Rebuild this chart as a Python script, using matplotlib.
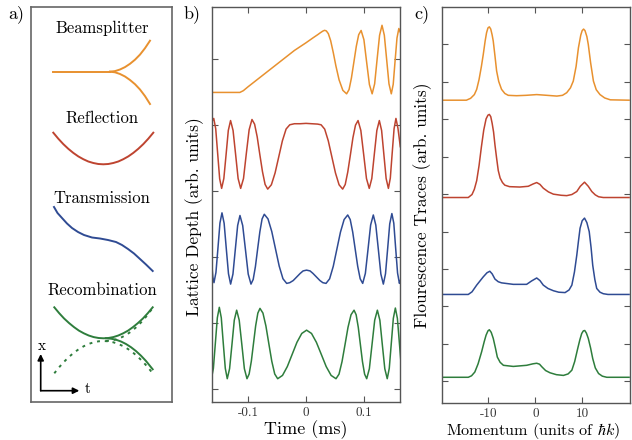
import numpy as np
import matplotlib
matplotlib.use('Agg')
import matplotlib.pyplot as plt

plt.rcParams['font.family'] = 'cmr10'
plt.rcParams['mathtext.fontset'] = 'cm'
plt.rcParams['axes.unicode_minus'] = False

ORANGE = '#E8912F'
RED = '#BE4430'
BLUE = '#2F4B93'
GREEN = '#2E7D3C'
SPINE = '#555555'

# ---------------- panel a: schematic paths (box coordinates) ----------------
bs_in_x = [22.3, 79]
bs_in_y = [64.7, 64.7]
bs_up_x = [79, 84, 89, 94, 99, 104, 109, 114, 119]
bs_up_y = [64.7, 64.1, 62.5, 60.1, 56.8, 52.7, 47.6, 41.2, 33.7]
bs_dn_y = [64.7, 65.3, 67.0, 69.5, 73.0, 77.2, 82.5, 89.1, 97.0]

refl_x = [22.3, 27.3, 32.3, 37.3, 42.3, 47.3, 52.3, 57.3, 62.3, 67.3, 72.3,
          77.3, 82.3, 87.3, 92.3, 97.3, 102.3, 107.3, 112.3, 117.3, 122.3]
refl_y = [125.7, 131.7, 137.1, 141.8, 145.9, 149.4, 152.2, 154.5, 156.0, 157.0, 157.3,
          157.0, 156.0, 154.5, 152.2, 149.4, 145.9, 141.8, 137.1, 131.7, 125.7]

trans_x = [23, 26.5, 31, 36, 41, 47, 53, 61, 69, 77, 85, 91, 97, 103, 109, 115, 121.7]
trans_y = [200, 206, 211, 216.5, 221, 225, 228, 230.5, 231.5, 233, 235, 238, 242,
           246.5, 252, 257.5, 264]

rec_x = [23.3, 28.2, 33.1, 38.1, 43.0, 47.9, 52.8, 57.7, 62.7, 67.6, 72.5,
         77.4, 82.3, 87.3, 92.2, 97.1, 102.0, 106.9, 111.9, 116.8, 121.7]
rec_u_y = [300.3, 306.2, 311.5, 316.1, 320.1, 323.6, 326.3, 328.5, 330.1, 331.0, 331.3,
           331.0, 330.1, 328.5, 326.3, 323.6, 320.1, 316.1, 311.5, 306.2, 300.3]
rec_n_y = [366.3, 360.2, 354.7, 349.8, 345.6, 342.1, 339.2, 336.9, 335.3, 334.3, 334.0,
           334.3, 335.3, 336.9, 339.2, 342.1, 345.6, 349.8, 354.7, 360.2, 366.3]
rec_br_x = [75, 80, 85, 90, 95, 100, 105, 110, 115, 121.7]
rec_br_dn_y = [331.3, 331.7, 332.7, 334.5, 337.0, 340.2, 344.1, 348.7, 354.0, 362.3]
rec_br_up_y = [334.0, 333.6, 332.5, 330.6, 328.0, 324.6, 320.4, 315.5, 309.8, 301.0]

# ---------------- panel b: lattice depth (normalised 0..1) ----------------
t_bs = [-0.163, -0.114, -0.108, -0.100, -0.080, -0.060, -0.040, -0.020, 0.000, 0.012,
        0.020, 0.025, 0.029, 0.032, 0.035, 0.0385, 0.0425, 0.047, 0.0515, 0.057, 0.0635, 0.070,
        0.0742, 0.0783, 0.0825, 0.0867, 0.0908, 0.095,
        0.0998, 0.1045, 0.1093, 0.114, 0.1183, 0.1225, 0.1268, 0.131,
        0.135, 0.139, 0.143, 0.147, 0.1503, 0.1535, 0.1568, 0.160, 0.1625]
v_bs = [0.02, 0.02, 0.045, 0.10, 0.23, 0.36, 0.49, 0.62, 0.73, 0.80,
        0.845, 0.875, 0.897, 0.908, 0.90, 0.86, 0.76, 0.59, 0.40, 0.20, 0.05, 0.0,
        0.061, 0.227, 0.453, 0.680, 0.845, 0.906,
        0.774, 0.453, 0.132, 0.0, 0.143, 0.49, 0.837, 0.98,
        0.837, 0.49, 0.143, 0.0, 0.136, 0.467, 0.798, 0.934, 0.88]

t_refl = [-0.1625, -0.159, -0.1556, -0.1522, -0.1488, -0.1454, -0.1416, -0.1377, -0.1339,
          -0.130, -0.1257, -0.1213, -0.1170, -0.1126, -0.1077, -0.1029, -0.0980, -0.0931,
          -0.0886, -0.0841, -0.0796, -0.0750, -0.0705, -0.066,
          -0.0597, -0.0533, -0.047, -0.0407, -0.0343, -0.028, -0.020, -0.010, 0.000,
          0.010, 0.020, 0.026, 0.0322, 0.0384, 0.0446, 0.0508, 0.057, 0.0632,
          0.0676, 0.072, 0.0765, 0.0809, 0.0853, 0.0897, 0.0945, 0.0994, 0.1042, 0.109,
          0.1134, 0.1177, 0.1221, 0.1264, 0.1303, 0.1342, 0.1381, 0.142,
          0.1453, 0.1485, 0.1518, 0.155, 0.1585, 0.1625]
v_refl = [0.95, 1.0, 0.854, 0.5, 0.146, 0.01, 0.15, 0.49, 0.83,
          0.97, 0.83, 0.49, 0.15, 0.01, 0.15, 0.50, 0.84, 0.985,
          0.919, 0.739, 0.49, 0.246, 0.066, 0.0,
          0.061, 0.228, 0.455, 0.683, 0.85, 0.91, 0.925, 0.925, 0.93,
          0.925, 0.92, 0.91, 0.849, 0.683, 0.455, 0.228, 0.061, 0.0,
          0.065, 0.243, 0.485, 0.728, 0.905, 0.97, 0.83, 0.49, 0.15, 0.01,
          0.15, 0.49, 0.83, 0.97, 0.83, 0.49, 0.15, 0.01,
          0.155, 0.505, 0.855, 1.0, 0.86, 0.6]

t_trans = [-0.1625, -0.1606, -0.1586, -0.1552, -0.1517, -0.1483, -0.1448,
           -0.1411, -0.1374, -0.1336, -0.1299, -0.1259, -0.1219, -0.1178, -0.1138,
           -0.1091, -0.1043, -0.0996, -0.0948, -0.091, -0.0872, -0.0834, -0.0795, -0.0757,
           -0.0719, -0.0655, -0.059, -0.0526, -0.0462, -0.0397, -0.0333,
           -0.028, -0.022, -0.016, -0.010, -0.005, 0.001, 0.007, 0.012, 0.018, 0.024,
           0.029, 0.0345, 0.0407, 0.047, 0.0532, 0.0594, 0.0657, 0.0719,
           0.0762, 0.0805, 0.0848, 0.0891, 0.0934, 0.0977, 0.1023, 0.1069, 0.1114, 0.116,
           0.1203, 0.1247, 0.129, 0.1333, 0.137, 0.1407, 0.1443, 0.148,
           0.1513, 0.1545, 0.1578, 0.161, 0.1625]
v_trans = [0.30, 0.10, 0.02, 0.163, 0.51, 0.857, 1.0,
           0.854, 0.5, 0.146, 0.0, 0.141, 0.48, 0.822, 0.963,
           0.822, 0.48, 0.141, 0.0, 0.066, 0.245, 0.49, 0.735, 0.914,
           0.98, 0.915, 0.738, 0.495, 0.253, 0.075, 0.01,
           0.02, 0.05, 0.10, 0.15, 0.185, 0.196, 0.185, 0.15, 0.10, 0.05,
           0.02, 0.01, 0.074, 0.25, 0.49, 0.73, 0.906, 0.97,
           0.906, 0.73, 0.49, 0.25, 0.074, 0.01, 0.15, 0.49, 0.83, 0.97,
           0.828, 0.485, 0.142, 0.0, 0.145, 0.495, 0.845, 0.99,
           0.855, 0.505, 0.155, 0.01, 0.05]

t_rec = [-0.163, -0.1596, -0.1562, -0.1528, -0.1494, -0.146, -0.1426, -0.1391, -0.1357,
         -0.1317, -0.1276, -0.1236, -0.1195, -0.1151, -0.1106, -0.1062, -0.1017,
         -0.098, -0.0942, -0.0905, -0.0868, -0.083, -0.0793,
         -0.0742, -0.0691, -0.0641, -0.059, -0.0539, -0.0488,
         -0.0405, -0.0322, -0.0239, -0.0156, -0.0073, 0.001,
         0.0095, 0.0179, 0.0264, 0.0348, 0.0433, 0.0517,
         0.0569, 0.0621, 0.0673, 0.0724, 0.0776, 0.0828,
         0.0864, 0.0901, 0.0937, 0.0973, 0.101, 0.1046,
         0.1092, 0.1138, 0.1184, 0.123, 0.1273, 0.1315, 0.1358, 0.140,
         0.1435, 0.147, 0.1505, 0.154, 0.1575, 0.161, 0.1645]
v_rec = [0.0, 0.146, 0.5, 0.854, 1.0, 0.854, 0.5, 0.146, 0.0,
         0.14, 0.48, 0.82, 0.96, 0.82, 0.48, 0.14, 0.0,
         0.066, 0.246, 0.493, 0.739, 0.919, 0.985,
         0.919, 0.739, 0.493, 0.246, 0.066, 0.0,
         0.046, 0.17, 0.34, 0.51, 0.634, 0.68,
         0.634, 0.51, 0.34, 0.17, 0.046, 0.0,
         0.064, 0.24, 0.48, 0.72, 0.896, 0.96,
         0.896, 0.72, 0.48, 0.24, 0.064, 0.0,
         0.14, 0.48, 0.82, 0.96, 0.82, 0.48, 0.14, 0.0,
         0.145, 0.495, 0.845, 0.99, 0.845, 0.495, 0.145]

# ---------------- panel c: fluorescence traces ----------------
k_bs = [-20, -14.7, -13.8, -13.0, -12.5, -12.0, -11.5, -11.1, -10.7, -10.4, -10.1, -9.8,
        -9.5, -9.2, -8.97, -8.6, -8.25, -7.8, -7.2, -6.5, -5.77, -4, -2, 0.3, 2.5, 4.6,
        5.8, 6.7, 7.5, 8.1, 8.7, 9.2, 9.7, 10.0, 10.3, 10.6, 11.0, 11.3, 11.8, 12.4,
        13.0, 13.8, 14.8, 16, 20]
f_bs = [0, 0, 0.05, 0.15, 0.29, 0.55, 0.90, 1.22, 1.58, 1.80, 1.93, 1.96,
        1.90, 1.74, 1.58, 1.18, 0.78, 0.50, 0.29, 0.18, 0.13, 0.12, 0.13, 0.15, 0.13, 0.11,
        0.13, 0.20, 0.33, 0.51, 0.90, 1.40, 1.74, 1.86, 1.90, 1.86, 1.70, 1.49, 1.00, 0.51,
        0.28, 0.15, 0.06, 0.01, 0]

k_refl = [-20, -14.3, -13.5, -13.0, -12.5, -12.0, -11.5, -11.0, -10.5, -10.1, -9.8, -9.5,
          -9.2, -8.9, -8.6, -8.25, -7.9, -7.5, -7.0, -6.5, -5.5, -3.3, -1.5, -0.5, 0.3,
          1.0, 1.7, 2.8, 3.85, 5.5, 6.7, 7.8, 8.85, 9.6, 10.5, 11.3, 12.05, 12.8, 13.5,
          14.5, 20]
f_refl = [0, 0, 0.08, 0.22, 0.45, 0.85, 1.35, 1.80, 2.10, 2.20, 2.22, 2.16,
          1.98, 1.75, 1.40, 1.05, 0.72, 0.52, 0.40, 0.33, 0.29, 0.28, 0.30, 0.36, 0.40,
          0.35, 0.25, 0.15, 0.09, 0.06, 0.05, 0.08, 0.16, 0.30, 0.41, 0.30, 0.16, 0.07, 0.02,
          0, 0]

k_trans = [-20, -14.3, -13.5, -12.5, -11.8, -11.1, -10.3, -9.7, -9.2, -8.6, -7.9, -7.2,
           -4.7, -1.85, -0.8, 0.3, 1.0, 1.7, 2.7, 3.85, 5.0, 6.35, 7.2, 7.8, 8.35, 8.85,
           9.2, 9.55, 10.0, 10.5, 11.0, 11.5, 11.9, 12.25, 12.7, 13.1, 13.8, 14.5, 15.5, 20]
f_trans = [0, 0, 0.07, 0.25, 0.36, 0.47, 0.58, 0.62, 0.55, 0.41, 0.34, 0.31,
           0.27, 0.27, 0.36, 0.44, 0.37, 0.25, 0.16, 0.10, 0.06, 0.05, 0.12, 0.25, 0.60, 1.05,
           1.42, 1.77, 1.97, 2.04, 1.92, 1.68, 1.25, 0.78, 0.40, 0.16, 0.06, 0.02, 0, 0]

k_rec = [-20, -14.3, -13.6, -12.9, -12.2, -11.45, -10.9, -10.5, -10.1, -9.8, -9.4, -8.97,
         -8.5, -8.1, -7.5, -6.8, -4.7, -1.85, -0.5, 0.3, 0.9, 1.4, 2.2, 3.15, 4.5, 6.0,
         7.0, 7.8, 8.4, 9.05, 9.5, 9.9, 10.25, 10.55, 10.9, 11.3, 11.8, 12.25, 12.8, 13.5,
         14.3, 15.25, 20]
f_rec = [0, 0, 0.04, 0.14, 0.36, 0.68, 0.95, 1.125, 1.24, 1.27, 1.20, 1.04,
         0.78, 0.54, 0.40, 0.32, 0.29, 0.32, 0.36, 0.375, 0.35, 0.28, 0.18, 0.12, 0.07, 0.05,
         0.09, 0.19, 0.42, 0.77, 1.0, 1.17, 1.24, 1.25, 1.18, 1.04, 0.78, 0.50, 0.25, 0.10,
         0.03, 0, 0]

fig = plt.figure(figsize=(6.32, 4.4), dpi=100)

# ---- panel a ----
axa = fig.add_axes([31/632, 38/440, 141/632, 395/440])
axa.set_xlim(0, 141)
axa.set_ylim(395, 0)
axa.set_xticks([])
axa.set_yticks([])
for s in axa.spines.values():
    s.set_color('#666666')
    s.set_linewidth(1.2)
lw = 1.4
axa.plot(bs_in_x, bs_in_y, color=ORANGE, lw=lw)
axa.plot(bs_up_x, bs_up_y, color=ORANGE, lw=lw)
axa.plot(bs_up_x, bs_dn_y, color=ORANGE, lw=lw)
axa.plot(refl_x, refl_y, color=RED, lw=lw)
axa.plot(trans_x, trans_y, color=BLUE, lw=lw)
axa.plot(rec_x, rec_u_y, color=GREEN, lw=lw)
axa.plot(rec_br_x, rec_br_dn_y, color=GREEN, lw=lw)
axa.plot(rec_x, rec_n_y, color=GREEN, lw=1.4, dashes=(1.5, 2.5))
axa.plot(rec_br_x, rec_br_up_y, color=GREEN, lw=1.4, dashes=(1.5, 2.5))
for label, y in [('Beamsplitter', 21), ('Reflection', 111), ('Transmission', 191),
                 ('Recombination', 283)]:
    axa.text(71, y, label, ha='center', va='center', fontsize=12)
arr = dict(arrowstyle='-|>', color='black', lw=1.2, mutation_scale=9, shrinkA=0, shrinkB=0)
axa.annotate('', xy=(9.7, 347), xytext=(9.7, 383.7), arrowprops=arr)
axa.annotate('', xy=(48.3, 383.7), xytext=(9.7, 383.7), arrowprops=arr)
axa.text(10.5, 339, 'x', ha='center', va='center', fontsize=11)
axa.text(56.5, 382, 't', ha='center', va='center', fontsize=11)


def style_axis(ax):
    for s in ax.spines.values():
        s.set_color(SPINE)
        s.set_linewidth(1.0)
    ax.tick_params(direction='in', top=True, right=True, length=4, width=0.8,
                   color=SPINE, labelsize=9.5, labelcolor='#333333')
    ax.set_yticklabels([])


# ---- panel b ----
axb = fig.add_axes([212/632, 38/440, 188/632, 395/440])
b_offsets = [4.474, 3.03, 1.59, 0.156]
b_scales = [1.06, 1.071, 1.08, 1.082]
for (t, v), c, off, sc in zip([(t_bs, v_bs), (t_refl, v_refl), (t_trans, v_trans), (t_rec, v_rec)],
                              [ORANGE, RED, BLUE, GREEN], b_offsets, b_scales):
    axb.plot(t, off + sc*np.array(v), color=c, lw=1.1, solid_joinstyle='round')
axb.set_xlim(-0.162, 0.162)
axb.set_ylim(-0.197, 5.79)
axb.set_xticks([-0.1, 0, 0.1])
axb.set_xticklabels(['-0.1', '0', '0.1'])
axb.set_yticks(range(6))
style_axis(axb)
axb.set_xlabel('Time (ms)', fontsize=13, labelpad=1)
axb.set_ylabel('Lattice Depth (arb. units)', fontsize=12.5)
axb.yaxis.set_label_coords(-0.045, 0.47)

# ---- panel c ----
axc = fig.add_axes([442/632, 37/440, 188/632, 396/440])
c_offsets = [7.51, 4.91, 2.32, 0.107]
for (k, f), c, off in zip([(k_bs, f_bs), (k_refl, f_refl), (k_trans, f_trans), (k_rec, f_rec)],
                          [ORANGE, RED, BLUE, GREEN], c_offsets):
    axc.plot(k, off + np.array(f), color=c, lw=1.1, solid_joinstyle='round')
axc.set_xlim(-19.9, 20.2)
axc.set_ylim(-0.58, 10.0)
axc.set_xticks([-10, 0, 10])
axc.set_xticklabels(['-10', '0', '10'])
axc.set_yticks(range(10))
style_axis(axc)
axc.set_xlabel(r'Momentum (units of $\hbar k$)', fontsize=11.6, labelpad=1)
axc.xaxis.set_label_coords(0.485, -0.045)
axc.set_ylabel('Flourescence Traces (arb. units)', fontsize=12.5)
axc.yaxis.set_label_coords(-0.055, 0.5)

for lab, x in [('a)', 16), ('b)', 192), ('c)', 422)]:
    fig.text(x/632, 1 - 14/440, lab, ha='center', va='center', fontsize=13)

fig.savefig('out.png', dpi=100)
